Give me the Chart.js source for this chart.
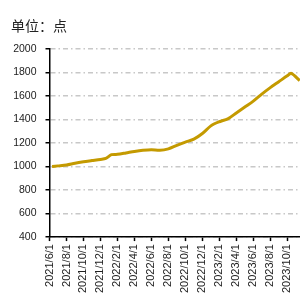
<!DOCTYPE html>
<html><head><meta charset="utf-8">
<script src="https://cdn.jsdelivr.net/npm/chart.js@4/dist/chart.umd.min.js"></script>
<style>html,body{margin:0;padding:0;background:#fff}#wrap{width:300px;height:300px}</style>
</head><body><div id="wrap"><canvas id="c" width="300" height="300"></canvas></div>
<script>
const titleText = "单位：点";
const dates = ["2021/6/10","2021/7/1","2021/8/1","2021/9/1","2021/10/1","2021/11/1","2021/12/1","2021/12/20","2022/1/10","2022/2/1","2022/3/1","2022/4/1","2022/5/1","2022/6/1","2022/7/1","2022/8/1","2022/9/1","2022/10/1","2022/11/1","2022/12/1","2023/1/1","2023/2/1","2023/3/1","2023/4/1","2023/5/1","2023/6/1","2023/7/1","2023/8/1","2023/9/1","2023/10/1","2023/10/15","2023/11/15"];
const values = [1000,1005,1013,1028,1040,1050,1060,1068,1100,1103,1115,1128,1138,1143,1137,1150,1180,1207,1232,1280,1345,1380,1405,1455,1505,1555,1615,1670,1720,1770,1791,1730];
const xTickLabels = ["2021/6/1","2021/8/1","2021/10/1","2021/12/1","2022/2/1","2022/4/1","2022/6/1","2022/8/1","2022/10/1","2022/12/1","2023/2/1","2023/4/1","2023/6/1","2023/8/1","2023/10/1"];
const yTicks = [400,600,800,1000,1200,1400,1600,1800,2000];

function monthIndex(s){const [y,m,d]=s.split('/').map(Number);return (y-2021)*12+(m-6)+(d-1)/30;}
const points = dates.map((d,i)=>({x:monthIndex(d),y:values[i]}));
const xTickVals = xTickLabels.map(monthIndex);
const labelMap = {}; xTickVals.forEach((v,i)=>labelMap[v.toFixed(3)]=xTickLabels[i]);

new Chart(document.getElementById('c'),{
  type:'line',
  data:{datasets:[{data:points,borderColor:'#C49A00',borderWidth:3,pointRadius:0,tension:0.3,fill:false}]},
  options:{
    responsive:false,animation:false,
    layout:{padding:{left:11,right:0,top:0,bottom:4}},
    plugins:{legend:{display:false},tooltip:{enabled:false},
      title:{display:true,text:titleText,align:'start',color:'#222',font:{family:'"Noto Sans CJK SC"',size:14,weight:'normal'},padding:{top:17,bottom:15}}},
    scales:{
      x:{type:'linear',min:0,max:29.5,
        afterBuildTicks:(s)=>{s.ticks=xTickVals.map(v=>({value:v}));},
        afterFit:(s)=>{s.paddingLeft=0;s.paddingRight=0;},
        ticks:{autoSkip:false,maxRotation:90,minRotation:90,padding:3,color:'#222',font:{family:'"Liberation Sans"',size:11},
          callback:(v)=>labelMap[Number(v).toFixed(3)]||''},
        grid:{drawOnChartArea:false,color:'rgba(0,0,0,0)',drawTicks:true,tickLength:4,tickColor:'#000',tickWidth:1.5},
        border:{display:true,color:'#000',width:1.5}},
      y:{min:400,max:2000,
        afterBuildTicks:(s)=>{s.ticks=yTicks.map(v=>({value:v}));},
        afterFit:(s)=>{s.width=38.5;},
        ticks:{padding:9,color:'#222',font:{family:'"Liberation Sans"',size:10.5},callback:(v)=>String(v)},
        grid:{color:'#C8C8C8',lineWidth:1.5,drawTicks:true,tickLength:4,tickColor:'#000',tickWidth:1.5,tickBorderDash:[]},
        border:{display:true,color:'#000',width:1.5,dash:[5,3,1.5,3]}}
    }
  }
});
</script></body></html>
